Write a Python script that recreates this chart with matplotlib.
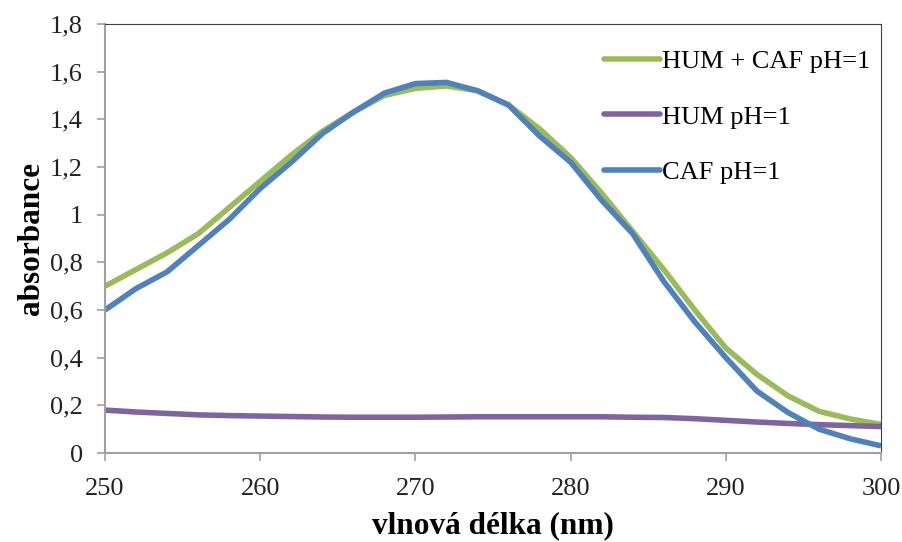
import matplotlib.pyplot as plt
import numpy as np

# wavelength grid (nm) and absorbance
wavelength = [250, 252, 254, 256, 258, 260, 262, 264, 266, 268, 270, 272, 274,
              276, 278, 280, 282, 284, 286, 288, 290, 292, 294, 296, 298, 300]
hum_caf = [0.70, 0.77, 0.84, 0.92, 1.03, 1.14, 1.25, 1.35, 1.43, 1.50, 1.53, 1.54, 1.52,
           1.46, 1.36, 1.24, 1.09, 0.93, 0.77, 0.60, 0.44, 0.33, 0.24, 0.175, 0.143, 0.12]
hum = [0.18, 0.172, 0.166, 0.160, 0.157, 0.155, 0.153, 0.151, 0.150, 0.150, 0.150, 0.151, 0.152,
       0.152, 0.152, 0.152, 0.152, 0.150, 0.149, 0.144, 0.137, 0.130, 0.124, 0.119, 0.115, 0.111]
caf = [0.60, 0.69, 0.76, 0.87, 0.98, 1.11, 1.22, 1.34, 1.43, 1.51, 1.55, 1.555, 1.52,
       1.46, 1.33, 1.22, 1.06, 0.92, 0.72, 0.55, 0.40, 0.26, 0.17, 0.10, 0.06, 0.03]

labels = ["HUM + CAF pH=1", "HUM pH=1", "CAF pH=1"]
colors = ["#9BBB59", "#8064A2", "#4F81BD"]

plt.rcParams['font.family'] = ['Liberation Serif', 'DejaVu Serif']

fig = plt.figure(figsize=(9.03, 5.42), dpi=100)
ax = fig.add_axes([0.1163, 0.1642, 0.8594, 0.7915])

for values, label, color in zip([hum_caf, hum, caf], labels, colors):
    ax.plot(wavelength, values, color=color, lw=4.0, label=label,
            solid_capstyle='butt', solid_joinstyle='round')

ax.set_xlim(250, 300)
ax.set_ylim(0, 1.8)
ax.set_xticks(np.arange(250, 301, 10))
ax.set_yticks(np.arange(0, 1.81, 0.2))
ax.set_yticklabels(['0' if v == 0 else ('1' if abs(v - 1) < 1e-9 else f"{v:.1f}".replace('.', ','))
                    for v in np.arange(0, 1.81, 0.2)])

for side in ['top', 'right']:
    ax.spines[side].set_color('#404040')
    ax.spines[side].set_linewidth(0.8)
for side in ['left', 'bottom']:
    ax.spines[side].set_color('#A0A0A0')
    ax.spines[side].set_linewidth(1.5)
ax.tick_params(axis='both', direction='out', length=6, width=1.2, color='#A0A0A0',
               labelsize=19, labelcolor='#222222')
ax.tick_params(axis='y', pad=10)
ax.tick_params(axis='x', pad=12)

ax.set_xlabel("vlnová délka (nm)", fontsize=22.5, fontweight='bold', labelpad=8)
ax.set_ylabel("absorbance", fontsize=22.5, fontweight='bold', labelpad=3)

leg = ax.legend(loc='upper right', bbox_to_anchor=(1.0, 0.965), frameon=False, fontsize=19,
                handlelength=2.1, handletextpad=0.1, labelspacing=1.22, borderaxespad=0)
for line in leg.get_lines():
    line.set_solid_capstyle('round')

fig.savefig("out.png", dpi=100)
